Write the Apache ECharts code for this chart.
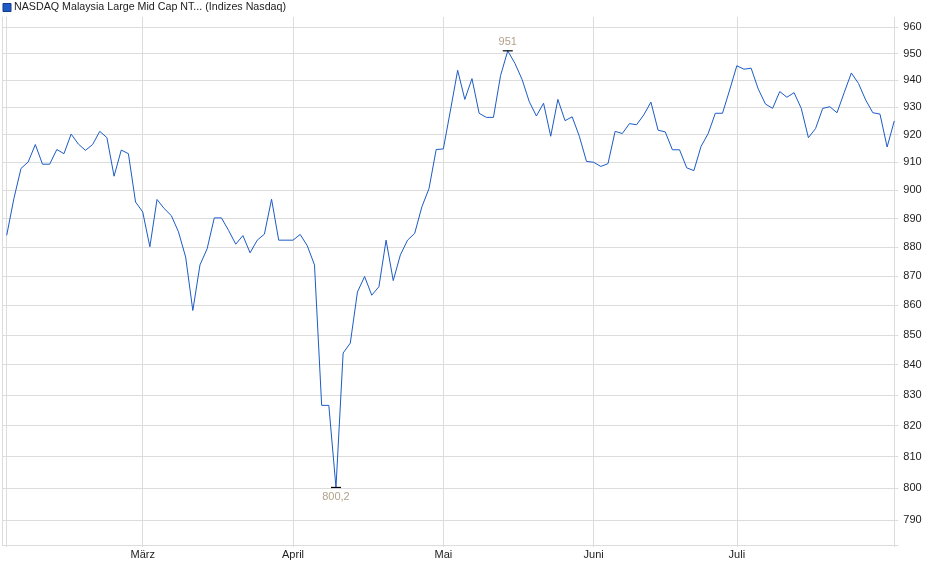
<!DOCTYPE html>
<html>
<head>
<meta charset="utf-8">
<script src="https://cdn.jsdelivr.net/npm/echarts@6/dist/echarts.min.js"></script>
<style>
  html, body { margin: 0; padding: 0; background: #fff; }
  #chart { width: 940px; height: 579px; }
</style>
</head>
<body>
<div id="chart"></div>
<script>
// Tagesschlusskurse, Feb - Jul
const closes = [
  884.1, 897.0, 907.8, 910.1, 916.4, 909.3, 909.3, 914.6, 913.1, 920.2,
  916.6, 914.3, 916.4, 921.2, 918.9, 905.0, 914.4, 913.1, 895.8, 892.3,
  880.1, 896.7, 893.5, 891.0, 885.3, 876.5, 858.2, 873.8, 879.4, 890.2,
  890.2, 885.8, 881.0, 884.0, 878.0, 882.4, 884.5, 896.8, 882.4, 882.4,
  882.4, 884.4, 880.4, 873.8, 826.6, 826.6, 800.2, 843.9, 847.2, 864.5,
  869.8, 863.4, 866.3, 882.4, 868.4, 877.3, 882.4, 884.8, 894.1, 900.6,
  914.6, 914.8, 929.0, 943.7, 932.9, 940.6, 927.8, 926.3, 926.3, 941.8,
  951.0, 946.3, 940.3, 932.1, 926.8, 931.5, 919.4, 932.9, 925.1, 926.5,
  919.4, 910.3, 910.0, 908.5, 909.5, 921.2, 920.4, 924.0, 923.6, 927.2,
  931.9, 921.6, 921.0, 914.5, 914.5, 908.0, 907.0, 915.7, 920.4, 927.8,
  927.8, 936.4, 945.4, 944.1, 944.5, 936.7, 931.2, 929.6, 935.8, 933.7,
  935.4, 929.6, 918.9, 922.2, 929.6, 930.2, 928.0, 935.4, 942.7, 938.8,
  932.7, 928.0, 927.5, 915.5, 925.0
]

// index of the first trading day of each month
const monthStarts = [19, 40, 61, 82, 102]
const monthLabels = ['März', 'April', 'Mai', 'Juni', 'Juli']
// vertical lines: first point, month starts, last point
const xLines = [0, 19, 40, 61, 82, 102, 124]

const yTicks = [790, 800, 810, 820, 830, 840, 850, 860, 870, 880, 890, 900, 910, 920, 930, 940, 950, 960]

const seriesName = 'NASDAQ Malaysia Large Mid Cap NT... (Indizes Nasdaq)'

const fontFamily = '"Liberation Sans", Arial, sans-serif'
const gridColor = '#dcdcdc'

function fmtDe(v) {
  return String(Number(v.toFixed(2))).replace('.', ',')
}

const chart = echarts.init(document.getElementById('chart'), null, { renderer: 'canvas' })

const option = {
  animation: false,
  backgroundColor: '#fff',
  textStyle: { fontFamily: fontFamily },
  legend: {
    left: 2.5,
    top: 2,
    padding: 0,
    itemWidth: 8,
    itemHeight: 8,
    icon: 'rect',
    itemStyle: { borderColor: '#17398a', borderWidth: 1 },
    textStyle: { fontSize: 10.7, color: '#222', fontFamily: fontFamily, padding: [0, 0, 0, -2] },
    data: [seriesName]
  },
  grid: {
    left: 2.7,
    right: 41.7,
    top: 17,
    bottom: 34,
    outerBoundsMode: 'none'
  },
  xAxis: {
    type: 'value',
    min: -0.56,
    max: 124.56,
    axisLine: { show: true, lineStyle: { color: gridColor } },
    axisTick: { show: true, length: 2, customValues: xLines, lineStyle: { color: gridColor } },
    splitLine: { show: true, lineStyle: { color: gridColor, width: 1 } },
    axisLabel: {
      customValues: monthStarts,
      formatter: (v) => monthLabels[monthStarts.indexOf(v)] || '',
      color: '#222',
      fontSize: 11,
      margin: 4,
      fontFamily: fontFamily
    }
  },
  yAxis: [
    {
      type: 'log',
      position: 'right',
      min: 782.2,
      max: 963.8,
      axisLine: { show: true, lineStyle: { color: gridColor } },
      axisTick: { show: false, customValues: yTicks },
      splitLine: { show: true, lineStyle: { color: gridColor, width: 1 } },
      axisLabel: {
        customValues: yTicks,
        color: '#222',
        fontSize: 11,
        margin: 5,
        fontFamily: fontFamily
      }
    },
    {
      type: 'value',
      position: 'left',
      min: 0,
      max: 1,
      axisLine: { show: true, lineStyle: { color: gridColor } },
      axisTick: { show: false },
      axisLabel: { show: false },
      splitLine: { show: false }
    }
  ],
  series: [
    {
      name: seriesName,
      type: 'line',
      yAxisIndex: 0,
      data: closes.map((v, i) => [i, v]),
      showSymbol: false,
      symbol: 'none',
      color: '#1c5bc6',
      lineStyle: { color: '#1c5bc6', width: 1 },
      markPoint: {
        symbol: 'rect',
        symbolSize: [10, 1.2],
        itemStyle: { color: '#000' },
        label: {
          show: true,
          color: '#b3a18c',
          fontSize: 11,
          fontFamily: fontFamily,
          formatter: (p) => fmtDe(p.value)
        },
        data: [
          { type: 'max', label: { position: 'top', distance: 3 } },
          { type: 'min', label: { position: 'bottom', distance: 3 } }
        ]
      }
    }
  ]
}

chart.setOption(option)
</script>
</body>
</html>
